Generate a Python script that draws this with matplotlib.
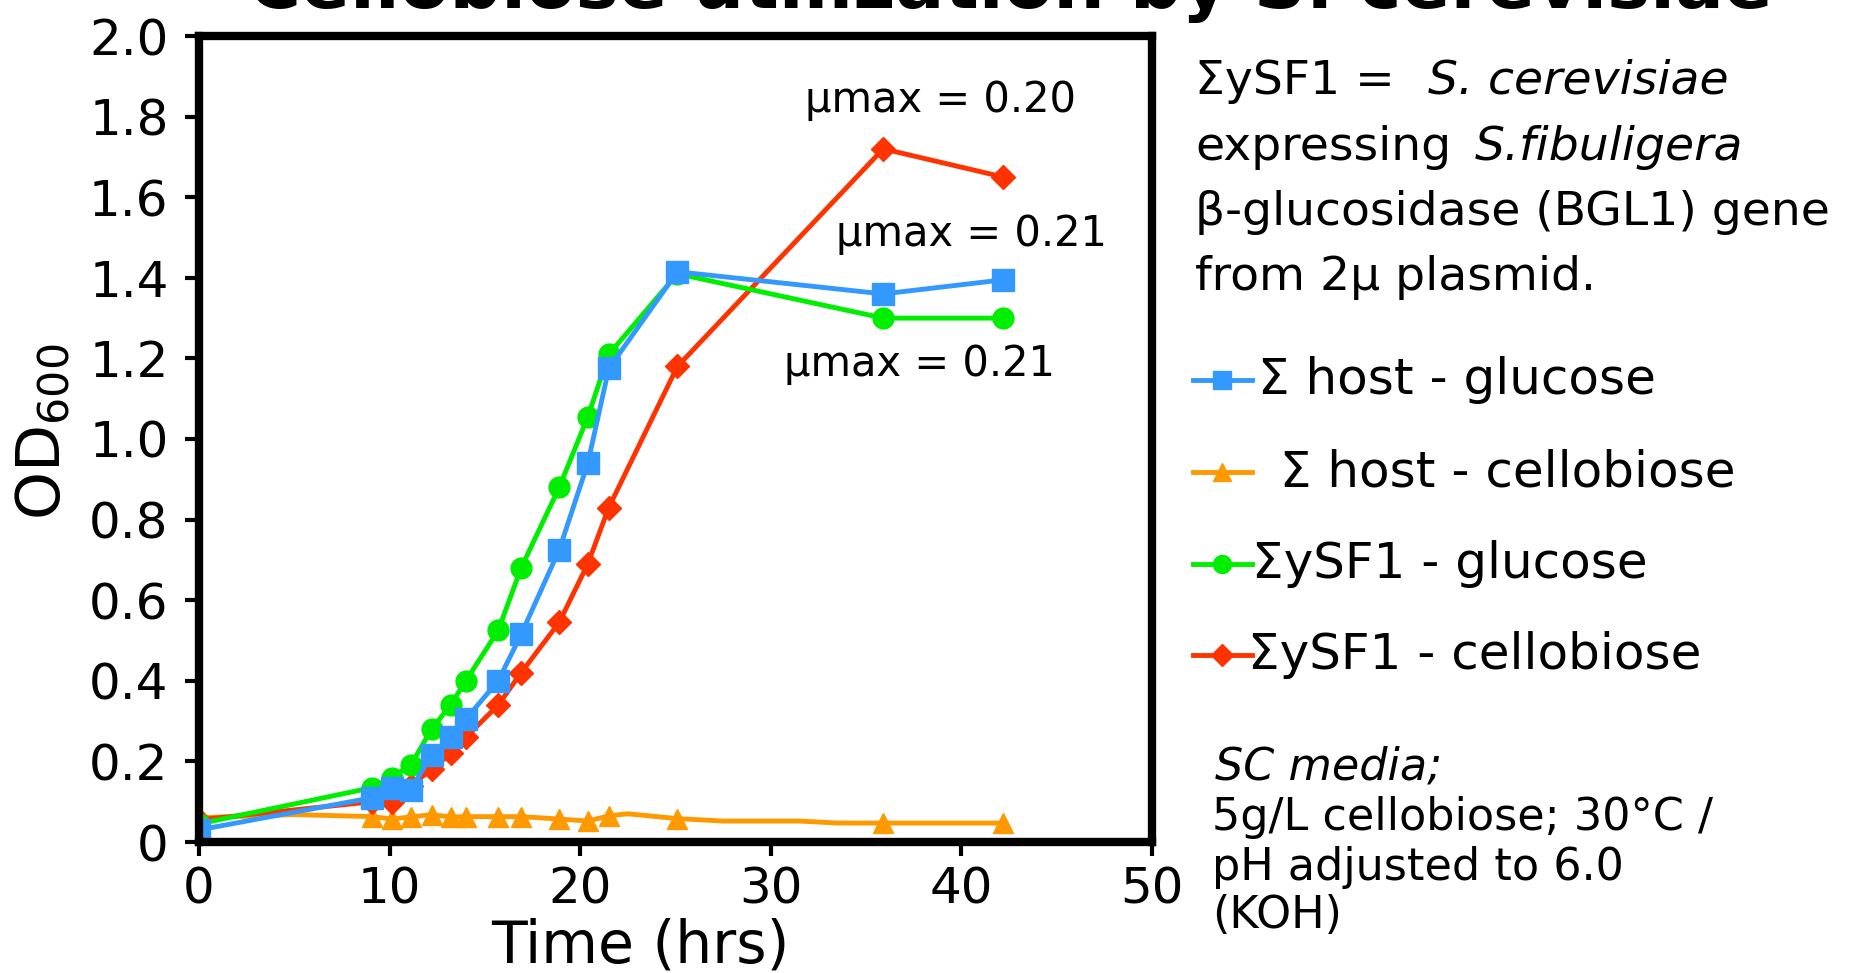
import matplotlib
matplotlib.use("Agg")
import matplotlib.pyplot as plt
from matplotlib.lines import Line2D
import numpy as np

# ---------------- data ----------------
time_hrs = [0, 9.1, 10.1, 11.1, 12.2, 13.2, 14.0, 15.7, 16.9, 18.9, 20.4, 21.5, 25.1, 35.9, 42.2]
host_glucose = [0.03, 0.11, 0.135, 0.13, 0.215, 0.26, 0.305, 0.40, 0.515, 0.725, 0.94, 1.175, 1.415, 1.36, 1.395]
host_cellobiose = [0.06, 0.063, 0.057, 0.062, 0.068, 0.062, 0.063, 0.063, 0.063, 0.057, 0.052, 0.065, 0.058, 0.047, 0.047]
ysf1_glucose = [0.045, 0.135, 0.16, 0.19, 0.28, 0.34, 0.40, 0.525, 0.68, 0.88, 1.055, 1.21, 1.41, 1.30, 1.30]
ysf1_cellobiose = [0.055, 0.10, 0.10, 0.14, 0.18, 0.22, 0.26, 0.34, 0.42, 0.545, 0.69, 0.83, 1.18, 1.72, 1.65]

# unmarked points on the host-cellobiose trace
host_cello_extra_t = [5.0, 22.5, 27.5, 31.5, 33.5]
host_cello_extra_v = [0.068, 0.07, 0.052, 0.052, 0.047]

x_ticks = [0, 10, 20, 30, 40, 50]
y_ticks = [0, 0.2, 0.4, 0.6, 0.8, 1.0, 1.2, 1.4, 1.6, 1.8, 2.0]
y_tick_labels = ["0", "0.2", "0.4", "0.6", "0.8", "1.0", "1.2", "1.4", "1.6", "1.8", "2.0"]

legend_labels = ["\u03a3 host - glucose", " \u03a3 host - cellobiose", "\u03a3ySF1 - glucose", "\u03a3ySF1 - cellobiose"]
mu_labels = ["\u03bcmax = 0.20", "\u03bcmax = 0.21", "\u03bcmax = 0.21"]

c_blue = "#3399FF"
c_orange = "#FF9900"
c_green = "#00EE00"
c_red = "#FF3300"

plt.rcParams['font.family'] = ['DejaVu Sans']

W, H = 1851, 973
fig = plt.figure(figsize=(W / 100, H / 100), dpi=100)
fig.patch.set_facecolor("white")

def fx(px):
    return px / W

def fy(py):
    return 1 - py / H

ax = fig.add_axes([fx(199), fy(842), fx(1152) - fx(199), fy(36) - fy(842)])

lw = 3.5
tr = sorted(zip(list(time_hrs) + host_cello_extra_t, list(host_cellobiose) + host_cello_extra_v))
ax.plot([a for a, b in tr], [b for a, b in tr], color=c_orange, lw=lw, zorder=2, solid_joinstyle='round')
ax.plot(time_hrs, host_cellobiose, ls='none', marker='^', ms=15, color=c_orange, zorder=2.1)
ax.plot(time_hrs, ysf1_cellobiose, color=c_red, lw=lw, marker='D', ms=12, zorder=3)
ax.plot(time_hrs, ysf1_glucose, color=c_green, lw=lw, marker='o', ms=15, zorder=4)
ax.plot(time_hrs, host_glucose, color=c_blue, lw=lw, marker='s', ms=16, zorder=5)

ax.set_xlim(0, 50)
ax.set_ylim(0, 2.0)
ax.set_xticks(x_ticks)
ax.set_xticklabels([str(v) for v in x_ticks])
ax.set_yticks(y_ticks)
ax.set_yticklabels(y_tick_labels)
for s in ax.spines.values():
    s.set_linewidth(6)
    s.set_color("black")
    s.set_zorder(6)
ax.tick_params(axis='both', direction='out', length=10, width=3, labelsize=36, colors='black')
ax.tick_params(axis='y', pad=12)
ax.tick_params(axis='x', pad=7)

# axis labels
fig.text(fx(44), fy(432), "OD$_{600}$", rotation=90, ha='center', va='center', fontsize=44)
fig.text(fx(640), fy(962), "Time (hrs)", ha='center', va='baseline', fontsize=42)

# title (cut off at top, as in the reference)
fig.text(fx(1010), fy(8), "Cellobiose utilization by S. cerevisiae", ha='center', va='baseline',
         fontsize=52, fontweight='bold')

# mu max annotations
fig.text(fx(805), fy(112), mu_labels[0], ha='left', va='baseline', fontsize=30)
fig.text(fx(836), fy(246), mu_labels[1], ha='left', va='baseline', fontsize=30)
fig.text(fx(784), fy(376), mu_labels[2], ha='left', va='baseline', fontsize=30)

renderer = fig.canvas.get_renderer()

def after(txt, gap_px):
    bb = txt.get_window_extent(renderer=renderer)
    return (bb.x1 + gap_px) / W

# right description text
fs_desc = 34
x_desc = 1195
a = fig.text(fx(x_desc), fy(94), "\u03a3ySF1 = ", ha='left', va='baseline', fontsize=fs_desc)
fig.text(after(a, 18), fy(94), "S. cerevisiae", ha='left', va='baseline', fontsize=fs_desc, style='italic')
b = fig.text(fx(x_desc), fy(160), "expressing", ha='left', va='baseline', fontsize=fs_desc)
fig.text(after(b, 24), fy(160), "S.fibuligera", ha='left', va='baseline', fontsize=fs_desc, style='italic')
fig.text(fx(x_desc), fy(225), "\u03b2-glucosidase (BGL1) gene", ha='left', va='baseline', fontsize=fs_desc)
fig.text(fx(x_desc), fy(290), "from 2\u03bc plasmid.", ha='left', va='baseline', fontsize=fs_desc)

# legend (manual)
leg_colors = [c_blue, c_orange, c_green, c_red]
leg_markers = ['s', '^', 'o', 'D']
leg_ms = [13, 13, 13, 11]
leg_y = [380, 472, 564, 655]
leg_text_x = [1258, 1264, 1252, 1248]
for col, mk, ms, yy, tx, lab in zip(leg_colors, leg_markers, leg_ms, leg_y, leg_text_x, legend_labels):
    ln = Line2D([fx(1193), fx(1222), fx(1252)], [fy(yy)] * 3, transform=fig.transFigure,
                color=col, lw=lw, marker=mk, ms=ms, markevery=[1])
    fig.add_artist(ln)
    fig.text(fx(tx), fy(yy), lab, ha='left', va='center', fontsize=36)

# media notes
fig.text(fx(1215), fy(779), "SC media;", ha='left', va='baseline', fontsize=32, style='italic')
fig.text(fx(1212), fy(830), "5g/L cellobiose; 30\u00b0C /", ha='left', va='baseline', fontsize=32)
fig.text(fx(1212), fy(880), "pH adjusted to 6.0", ha='left', va='baseline', fontsize=32)
fig.text(fx(1212), fy(928), "(KOH)", ha='left', va='baseline', fontsize=32)

fig.savefig("out.png", dpi=100)
